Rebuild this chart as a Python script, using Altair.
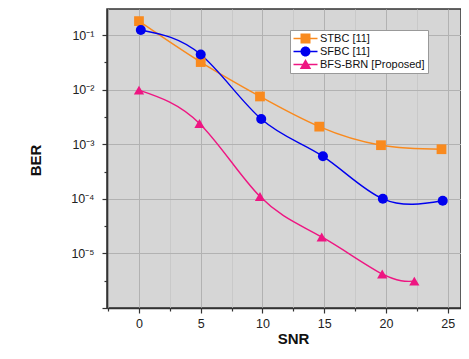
import altair as alt
import pandas as pd

series_names = ["STBC [11]", "SFBC [11]", "BFS-BRN [Proposed]"]
colors = ["#F98A1E", "#0000EE", "#EE1682"]

snr_stbc = [0, 5, 9.8, 14.6, 19.6, 24.5]
ber_stbc = [0.18, 0.032, 0.0075, 0.0021, 0.00096, 0.00081]
snr_sfbc = [0.15, 5.0, 9.9, 14.9, 19.75, 24.6]
ber_sfbc = [0.124, 0.044, 0.0029, 0.0006, 0.0001, 0.000092]
snr_bfs = [0, 4.9, 9.8, 14.8, 19.7, 22.3]
ber_bfs = [0.0098, 0.0024, 0.00011, 0.00002, 0.0000042, 0.0000031]

x_ticks = [-2.5, 0, 2.5, 5, 7.5, 10, 12.5, 15, 17.5, 20, 22.5, 25]
y_ticks = [1e-6, 10**-5.5, 1e-5, 10**-4.5, 1e-4, 10**-3.5, 1e-3,
           10**-2.5, 1e-2, 10**-1.5, 1e-1, 10**-0.5]

rows = []
for name, xs, ys in [(series_names[0], snr_stbc, ber_stbc),
                     (series_names[1], snr_sfbc, ber_sfbc),
                     (series_names[2], snr_bfs, ber_bfs)]:
    for xv, yv in zip(xs, ys):
        rows.append({"series": name, "snr": xv, "ber": yv})
df = pd.DataFrame(rows)

FONT = "Liberation Sans"

is_major_y = "abs(log(datum.value)/LN10 - round(log(datum.value)/LN10)) < 0.01"
y_label = ("(" + is_major_y + " && round(log(datum.value)/LN10) > -6) ? '10' + "
           "['⁰','⁻¹','⁻²','⁻³','⁻⁴','⁻⁵','⁻⁶'][-round(log(datum.value)/LN10)] : ''")
is_major_x = "datum.value == round(datum.value) && datum.value % 5 == 0"

x_enc = alt.X("snr:Q", scale=alt.Scale(domain=[-2.59, 26.08], nice=False, zero=False),
              axis=alt.Axis(values=x_ticks, title="SNR", labelOverlap=False,
                            labelExpr="(" + is_major_x + ") ? datum.label : ''",
                            gridColor={"condition": {"test": is_major_x, "value": "#B2B2B2"}, "value": "#C9C9C9"},
                            tickSize={"condition": {"test": is_major_x, "value": 5}, "value": 3},
                            labelPadding=4, titleX=186, titleY=30, titleBaseline="middle"))
y_enc = alt.Y("ber:Q", scale=alt.Scale(type="log", domain=[1e-6, 0.3], nice=False),
              axis=alt.Axis(values=y_ticks, title="BER", labelExpr=y_label, labelOverlap=False,
                            gridOpacity={"condition": {"test": is_major_y, "value": 1}, "value": 0},
                            tickSize={"condition": {"test": is_major_y, "value": 5}, "value": 3},
                            gridColor="#B2B2B2",
                            labelPadding=8, titleX=-72, titleY=151, titleBaseline="middle"))

color_scale = alt.Scale(domain=series_names, range=colors)

lines = alt.Chart(df).mark_line(interpolate="natural", strokeWidth=1.4).encode(
    x=x_enc, y=y_enc,
    color=alt.Color("series:N", scale=color_scale, legend=None),
)

points = alt.Chart(df).mark_point(filled=True, opacity=1).encode(
    x=x_enc, y=y_enc,
    color=alt.Color("series:N", scale=color_scale, legend=None),
    shape=alt.Shape("series:N", scale=alt.Scale(domain=series_names, range=["square", "circle", "triangle-up"]), legend=None),
    size=alt.Size("series:N", scale=alt.Scale(domain=series_names, range=[95, 105, 150]), legend=None),
)

sq_path = "M-2.4,-0.15L-1,-0.15L-1,0.15L-2.4,0.15Z M1,-0.15L2.4,-0.15L2.4,0.15L1,0.15Z M-1,-1L1,-1L1,1L-1,1Z"
ci_path = "M-2.4,-0.15L-1,-0.15L-1,0.15L-2.4,0.15Z M1,-0.15L2.4,-0.15L2.4,0.15L1,0.15Z M-1,0A1,1 0 1,0 1,0A1,1 0 1,0 -1,0Z"
tr_path = "M-2.4,-0.15L-0.5,-0.15L-0.5,0.15L-2.4,0.15Z M0.5,-0.15L2.4,-0.15L2.4,0.15L0.5,0.15Z M0,-1.1L1.15,0.9L-1.15,0.9Z"

leg = alt.Legend(title=None, orient="none", legendX=183, legendY=21, fillColor="white",
                 strokeColor="#999999", padding=3, labelFontSize=11, labelFont=FONT,
                 labelColor="#111111", symbolSize=100, symbolOffset=7, labelOffset=9,
                 rowPadding=1, symbolStrokeWidth=0)

# legend-only layer: same data pushed far below the plotted range and clipped away
legend_layer = alt.Chart(df).transform_calculate(ber="datum.ber * 1e-9").mark_point(
    filled=True, opacity=1, size=100, clip=True).encode(
    x=x_enc, y=y_enc,
    color=alt.Color("series:N", scale=color_scale, legend=leg),
    shape=alt.Shape("series:N", scale=alt.Scale(domain=series_names, range=[sq_path, ci_path, tr_path]), legend=leg),
)

chart = alt.layer(lines, points, legend_layer).resolve_scale(
    color="independent", shape="independent", size="independent"
).properties(
    width=354, height=299,
    autosize=alt.AutoSizeParams(type="none"),
    padding={"left": 99, "top": 1, "right": 0, "bottom": 39},
).configure_view(
    fill="#D6D6D6", stroke="#333333", strokeWidth=1.5
).configure_axis(
    labelFont=FONT, titleFont=FONT, labelFontSize=12.5, labelColor="#222222",
    titleFontSize=15, titleFontWeight="bold", titleColor="#111111",
    domainColor="#333333", domainWidth=1.5, tickColor="#333333", tickWidth=1.2,
    gridWidth=1,
)

chart.save("out.html", embed_options={"renderer": "svg", "actions": False})
